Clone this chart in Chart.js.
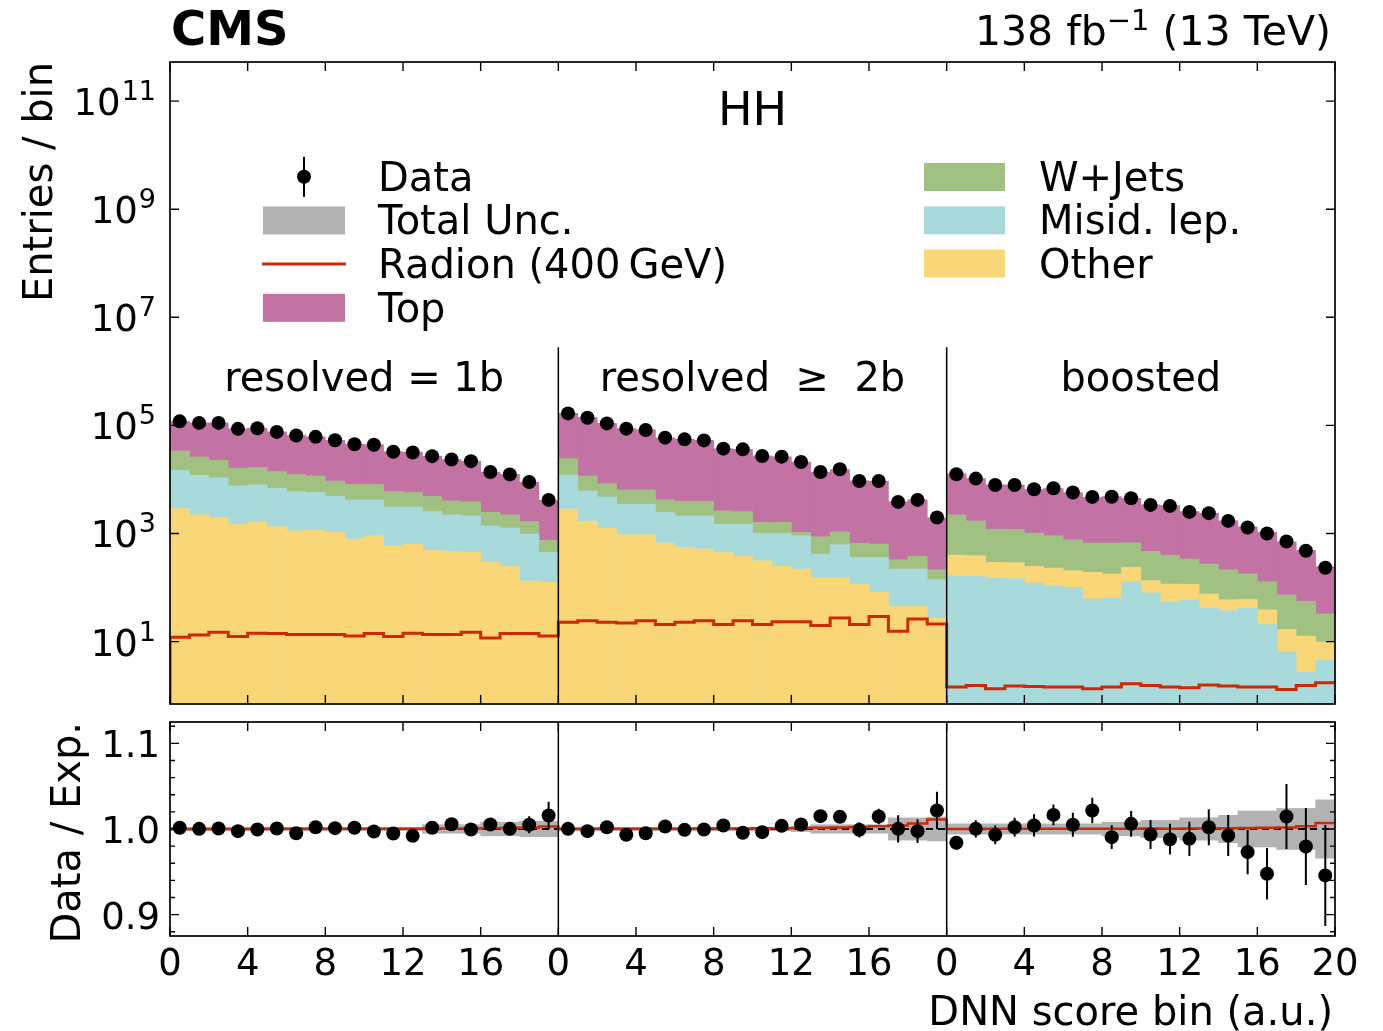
<!DOCTYPE html>
<html lang="en">
<head>
    <meta charset="UTF-8">
    <title>HH DNN score</title>
    <script src="https://cdn.jsdelivr.net/npm/chart.js"></script>
    <style>
        body { margin: 0; background: #fff; }
        #wrap { position: relative; width: 1383px; height: 1031px; }
        canvas { position: absolute; left: 0; }
        #main { top: 0; }
        #ratio { top: 712px; }
    </style>
</head>
<body>
<div id="wrap">
    <canvas id="main" width="1383" height="712"></canvas>
    <canvas id="ratio" width="1383" height="319"></canvas>
</div>

<script>
    // 3 categories x 20 DNN score bins
    const nBins = 60;
    const regionLabels = ['resolved = 1b', 'resolved  \u2265  2b', 'boosted'];
    const regionEdges = [20, 40];
    const xTickStep = 4;
    const yTickExps = [1, 3, 5, 7, 9, 11];
    const ratioMajor = [0.9, 1.0, 1.1];
    const ratioMinor = [0.88, 0.92, 0.94, 0.96, 0.98, 1.02, 1.04, 1.06, 1.08, 1.12];

    const dataObs = [
        118800, 111200, 111200, 86300, 88500, 75900, 64900, 61400, 53200, 44900, 43800, 32500, 31600, 27000, 23400, 21800, 13700, 12400, 8950, 4180,
        166700, 138700, 108900, 87100, 82000, 59300, 55200, 52800, 37150, 36060, 27160, 26420, 21040, 13740, 15420, 9380, 9380, 3840, 4180, 1980,
        12470, 10380, 7910, 7910, 6590, 6870, 5730, 4750, 4790, 4500, 3380, 3240, 2510, 2380, 1710, 1290, 1000, 713, 479, 232
    ];
    const bkgTop = [
        85100, 85200, 88600, 70500, 72000, 61900, 52900, 49700, 43900, 36900, 35900, 26700, 26100, 22100, 19300, 17900, 11150, 10190, 7240, 3360,
        142400, 127500, 100300, 81300, 76000, 54900, 51400, 48900, 34400, 33650, 25700, 24700, 19900, 12670, 14140, 8730, 8600, 3510, 3810, 1730,
        10460, 8670, 6770, 6700, 5540, 5850, 4940, 3990, 4180, 3800, 2930, 2880, 2200, 2100, 1510, 1150, 927, 630, 433, 213
    ];
    const bkgWJets = [
        18800, 14100, 11900, 8510, 8660, 7130, 6330, 5870, 4430, 3880, 3880, 2880, 2640, 2280, 1800, 1770, 1100, 950, 683, 306,
        12170, 5470, 3640, 2930, 2930, 1750, 1780, 1780, 1130, 1060, 600, 600, 139, 453, 456, 303, 276, 107, 157, 74,
        1812, 1321, 908, 902, 771, 677, 560, 473, 486, 434, 333, 282, 222, 196, 154, 118, 89, 56.1, 43.1, 22.6
    ];
    const bkgMisid = [
        11900, 9690, 8720, 6100, 6320, 5540, 4850, 4580, 3850, 3380, 3260, 2500, 2460, 2060, 1740, 1670, 1080, 1015, 845, 322,
        9280, 4470, 3510, 2530, 2530, 1780, 1570, 1610, 1040, 1110, 687, 754, 686, 264, 466, 245, 280, 176, 176, 113,
        161, 162, 148, 147, 121, 108, 101, 61.4, 64.1, 128, 79.4, 53.3, 58.9, 41.4, 37.3, 41.4, 20.6, 6.5, 2.7, 4.5
    ];
    const bkgOther = [
        2880, 2210, 1980, 1490, 1620, 1330, 1120, 1150, 1050, 787, 906, 592, 631, 490, 468, 447, 300, 245, 132, 125,
        2820, 1670, 1240, 946, 946, 664, 552, 514, 447, 377, 313, 246, 220, 152, 152, 116, 81.5, 44.4, 44.4, 27,
        237, 227, 144, 141, 124, 121, 103, 130, 114, 108, 54.6, 62.7, 56.1, 34.5, 22.3, 18.9, 18.3, 10.2, 9.9, 5.3
    ];
    const radion = [
        12.0, 13.3, 14.9, 12.4, 14.3, 14.1, 13.5, 13.5, 13.5, 12.7, 14.1, 12.4, 14.3, 13.5, 13.5, 14.9, 11.7, 14.1, 14.1, 12.7,
        22.8, 24.4, 22.8, 22.1, 24.4, 20.6, 22.8, 24.4, 20.6, 24.4, 20.6, 23.4, 23.4, 19.8, 27.4, 20.6, 29.0, 15.6, 26.2, 21.2,
        1.44, 1.54, 1.34, 1.50, 1.47, 1.45, 1.45, 1.34, 1.45, 1.65, 1.54, 1.44, 1.40, 1.58, 1.50, 1.45, 1.44, 1.30, 1.54, 1.73
    ];

    const ratioObs = [
        1.0014, 1.0002, 1.0006, 0.9975, 0.9994, 1.0006, 0.9951, 1.0021, 1.001, 1.0014, 0.9971, 0.9947, 0.992, 1.0014, 1.0056, 0.9994, 1.0053, 1.0002, 1.0049, 1.0158,
        1.0002, 0.9975, 1.0021, 0.9932, 0.9951, 1.0029, 0.999, 0.9994, 1.0041, 0.9955, 0.9963, 1.0037, 1.0053, 1.015, 1.0142, 0.999, 1.0146, 1.0002, 0.9975, 1.0216,
        0.9839, 1.0002, 0.9932, 1.0021, 1.0041, 1.0165, 1.0049, 1.0216, 0.9905, 1.006, 0.9936, 0.9881, 0.9885, 1.0021, 0.9924, 0.973, 0.9477, 1.0146, 0.9796, 0.9458
    ];
    const ratioErr = [
        0.002, 0.002, 0.002, 0.002, 0.002, 0.002, 0.002, 0.003, 0.003, 0.003, 0.003, 0.003, 0.004, 0.004, 0.005, 0.005, 0.006, 0.007, 0.010, 0.016,
        0.002, 0.002, 0.002, 0.002, 0.003, 0.003, 0.003, 0.003, 0.004, 0.004, 0.005, 0.005, 0.005, 0.007, 0.007, 0.009, 0.009, 0.016, 0.014, 0.022,
        0.008, 0.010, 0.011, 0.011, 0.013, 0.012, 0.014, 0.015, 0.014, 0.015, 0.017, 0.018, 0.020, 0.021, 0.024, 0.026, 0.030, 0.038, 0.045, 0.059
    ];
    const ratioUnc = [
        0.002, 0.002, 0.002, 0.002, 0.002, 0.002, 0.002, 0.002, 0.002, 0.002, 0.002, 0.002, 0.002, 0.005, 0.005, 0.005, 0.008, 0.008, 0.009, 0.009,
        0.002, 0.002, 0.002, 0.002, 0.002, 0.002, 0.002, 0.002, 0.002, 0.002, 0.002, 0.002, 0.003, 0.005, 0.005, 0.005, 0.005, 0.013, 0.013, 0.014,
        0.006, 0.006, 0.006, 0.006, 0.006, 0.006, 0.006, 0.006, 0.008, 0.008, 0.010, 0.010, 0.013, 0.013, 0.016, 0.021, 0.021, 0.024, 0.024, 0.034
    ];
    const ratioSignal = [
        1.0001, 1.0001, 1.0001, 1.0001, 1.0001, 1.0002, 1.0002, 1.0002, 1.0003, 1.0003, 1.0003, 1.0004, 1.0004, 1.0005, 1.0006, 1.0007, 1.0009, 1.0011, 1.0016, 1.003,
        1.0001, 1.0002, 1.0002, 1.0003, 1.0003, 1.0004, 1.0004, 1.0005, 1.0006, 1.0007, 1.0009, 1.0009, 1.0011, 1.0015, 1.0018, 1.0022, 1.0031, 1.0041, 1.0063, 1.011,
        1.0001, 1.0001, 1.0002, 1.0002, 1.0002, 1.0002, 1.0003, 1.0003, 1.0003, 1.0004, 1.0005, 1.0004, 1.0006, 1.0007, 1.0009, 1.0011, 1.0014, 1.0018, 1.0031, 1.0071
    ];

    const yMin = 0.74, yMax = 5.3e11;
    const ratioMin = 0.875, ratioMax = 1.125;
    const separatorTop = 2.8e6;

    const colors = {
        top: '#c273a4',
        wjets: '#a1c182',
        misid: '#a9dadb',
        other: '#f9d678',
        radion: '#cc2a04',
        unc: '#b3b3b3'
    };

    const FONT = '"DejaVu Sans", sans-serif';
    Chart.defaults.font.family = FONT;

    function binPoints(values) {
        return values.map((v, i) => ({x: i + 0.5, y: v}));
    }

    // only keep bins in [from, to), so the boosted stack can use another order
    function binPart(values, from, to) {
        return values.map((v, i) => ({x: i + 0.5, y: (i >= from && i < to) ? v : null}));
    }

    // step histogram: points at right bin edges, drawn with stepped 'after'
    function stepPoints(values, first) {
        const pts = [{x: 0, y: first}];
        values.forEach((v, i) => pts.push({x: i + 1, y: v}));
        return pts;
    }

    function stackBar(label, points, color) {
        return {
            type: 'bar', label: label, data: points, backgroundColor: color, stack: 'bkg',
            borderWidth: 0, barPercentage: 1, categoryPercentage: 1, order: 3
        };
    }

    function drawFrame(chart, yMajor, yMinor) {
        const ctx = chart.ctx, a = chart.chartArea;
        const xs = chart.scales.x, ys = chart.scales.y;
        ctx.save();
        ctx.strokeStyle = '#000';
        ctx.lineWidth = 1.4;
        ctx.beginPath();
        for (let v = 0; v <= nBins; v += xTickStep) {
            const px = xs.getPixelForValue(v);
            ctx.moveTo(px, a.bottom); ctx.lineTo(px, a.bottom - 9);
            ctx.moveTo(px, a.top); ctx.lineTo(px, a.top + 9);
        }
        yMajor.forEach(v => {
            const py = ys.getPixelForValue(v);
            ctx.moveTo(a.left, py); ctx.lineTo(a.left + 9, py);
            ctx.moveTo(a.right, py); ctx.lineTo(a.right - 9, py);
        });
        yMinor.forEach(v => {
            const py = ys.getPixelForValue(v);
            ctx.moveTo(a.left, py); ctx.lineTo(a.left + 5, py);
            ctx.moveTo(a.right, py); ctx.lineTo(a.right - 5, py);
        });
        ctx.stroke();
        ctx.lineWidth = 1.7;
        ctx.strokeRect(a.left, a.top, a.right - a.left, a.bottom - a.top);
        ctx.restore();
    }

    function drawVerticalTitle(ctx, text, x, yTop) {
        ctx.save();
        ctx.translate(x, yTop);
        ctx.rotate(-Math.PI / 2);
        ctx.font = '40px ' + FONT;
        ctx.textAlign = 'right';
        ctx.textBaseline = 'alphabetic';
        ctx.fillStyle = '#000';
        ctx.fillText(text, 0, 0);
        ctx.restore();
    }

    const mainDecor = {
        id: 'mainDecor',
        afterDraw(chart) {
            const ctx = chart.ctx, a = chart.chartArea;
            const xs = chart.scales.x, ys = chart.scales.y;

            // category separators
            ctx.save();
            ctx.strokeStyle = '#000';
            ctx.lineWidth = 1.5;
            regionEdges.forEach(b => {
                const px = xs.getPixelForValue(b);
                ctx.beginPath();
                ctx.moveTo(px, ys.getPixelForValue(separatorTop));
                ctx.lineTo(px, a.bottom);
                ctx.stroke();
            });
            ctx.restore();

            drawFrame(chart, yTickExps.map(e => Math.pow(10, e)), []);

            ctx.save();
            ctx.fillStyle = '#000';
            ctx.textBaseline = 'alphabetic';

            // 10^n labels
            yTickExps.forEach(e => {
                const py = ys.getPixelForValue(Math.pow(10, e));
                ctx.font = '27px ' + FONT;
                const we = ctx.measureText(String(e)).width;
                ctx.textAlign = 'right';
                ctx.fillText(String(e), 156, py - 1);
                ctx.font = '37px ' + FONT;
                ctx.fillText('10', 156 - we - 1, py + 14);
            });

            // region labels
            ctx.font = '40px ' + FONT;
            ctx.textAlign = 'center';
            regionLabels.forEach((t, i) => {
                ctx.fillText(t, xs.getPixelForValue(i * 20 + 10), 391);
            });

            ctx.font = '46px ' + FONT;
            ctx.fillText('HH', (a.left + a.right) / 2, 125);

            // CMS and lumi
            ctx.textAlign = 'left';
            ctx.font = 'bold 48px ' + FONT;
            ctx.fillText('CMS', 171, 45);

            const p1 = '138 fb', p2 = '\u22121', p3 = ' (13 TeV)';
            ctx.font = '41px ' + FONT;
            const w1 = ctx.measureText(p1).width, w3 = ctx.measureText(p3).width;
            ctx.font = '29px ' + FONT;
            const w2 = ctx.measureText(p2).width;
            let x0 = 1331 - (w1 + w2 + w3);
            ctx.font = '41px ' + FONT;
            ctx.fillText(p1, x0, 45);
            ctx.font = '29px ' + FONT;
            ctx.fillText(p2, x0 + w1, 30);
            ctx.font = '41px ' + FONT;
            ctx.fillText(p3, x0 + w1 + w2, 45);

            // legend
            const rowsL = [176.7, 220.4, 264.1, 307.8];
            const rowsR = [177, 220.4, 263.5];
            ctx.font = '40px ' + FONT;

            ctx.strokeStyle = '#000';
            ctx.lineWidth = 2;
            ctx.beginPath();
            ctx.moveTo(304, rowsL[0] - 20); ctx.lineTo(304, rowsL[0] + 20);
            ctx.stroke();
            ctx.beginPath();
            ctx.arc(304, rowsL[0], 7, 0, Math.PI * 2);
            ctx.fill();

            ctx.fillStyle = colors.unc;
            ctx.fillRect(263, rowsL[1] - 14, 82, 28);
            ctx.strokeStyle = colors.radion;
            ctx.lineWidth = 3;
            ctx.beginPath();
            ctx.moveTo(262, rowsL[2]); ctx.lineTo(346, rowsL[2]);
            ctx.stroke();
            ctx.fillStyle = colors.top;
            ctx.fillRect(263, rowsL[3] - 14, 82, 28);

            ctx.fillStyle = colors.wjets;
            ctx.fillRect(924, rowsR[0] - 14, 81, 28);
            ctx.fillStyle = colors.misid;
            ctx.fillRect(924, rowsR[1] - 14, 81, 28);
            ctx.fillStyle = colors.other;
            ctx.fillRect(924, rowsR[2] - 14, 81, 28);

            ctx.fillStyle = '#000';
            const namesL = ['Data', 'Total Unc.', 'Radion (400\u2009GeV)', 'Top'];
            const namesR = ['W+Jets', 'Misid. lep.', 'Other'];
            namesL.forEach((t, i) => ctx.fillText(t, 378, rowsL[i] + 14));
            namesR.forEach((t, i) => ctx.fillText(t, 1039, rowsR[i] + 14));
            ctx.restore();

            drawVerticalTitle(ctx, 'Entries / bin', 52, a.top);
        }
    };

    const ratioDecor = {
        id: 'ratioDecor',
        afterDatasetsDraw(chart) {
            const ctx = chart.ctx;
            const xs = chart.scales.x, ys = chart.scales.y;
            ctx.save();
            ctx.strokeStyle = '#000';
            ctx.lineWidth = 2;
            ctx.beginPath();
            ratioObs.forEach((r, i) => {
                const px = xs.getPixelForValue(i + 0.5);
                ctx.moveTo(px, ys.getPixelForValue(r - ratioErr[i]));
                ctx.lineTo(px, ys.getPixelForValue(r + ratioErr[i]));
            });
            ctx.stroke();
            ctx.restore();
        },
        afterDraw(chart) {
            const ctx = chart.ctx, a = chart.chartArea;
            const xs = chart.scales.x, ys = chart.scales.y;

            ctx.save();
            ctx.strokeStyle = '#000';
            ctx.lineWidth = 1.5;
            regionEdges.forEach(b => {
                const px = xs.getPixelForValue(b);
                ctx.beginPath();
                ctx.moveTo(px, a.top);
                ctx.lineTo(px, a.bottom);
                ctx.stroke();
            });
            ctx.restore();

            drawFrame(chart, ratioMajor, ratioMinor);

            ctx.save();
            ctx.fillStyle = '#000';
            ctx.font = '37px ' + FONT;
            ctx.textBaseline = 'alphabetic';
            ctx.textAlign = 'right';
            ratioMajor.forEach(v => {
                ctx.fillText(v.toFixed(1), 160, ys.getPixelForValue(v) + 14);
            });
            ctx.textAlign = 'center';
            for (let v = 0; v <= nBins; v += xTickStep) {
                const lab = (v === nBins) ? '20' : String(v % 20);
                ctx.fillText(lab, xs.getPixelForValue(v), 263);
            }
            ctx.font = '40px ' + FONT;
            ctx.textAlign = 'right';
            ctx.fillText('DNN score bin (a.u.)', 1333, 313);
            ctx.restore();

            drawVerticalTitle(ctx, 'Data / Exp.', 80, a.top);
        }
    };

    const xScale = {type: 'linear', min: 0, max: nBins, offset: false, display: false};

    new Chart(document.getElementById('main').getContext('2d'), {
        type: 'bar',
        data: {
            datasets: [
                stackBar('Misid. lep. (boosted)', binPart(bkgMisid, 40, 60), colors.misid),
                stackBar('Other', binPoints(bkgOther), colors.other),
                stackBar('Misid. lep.', binPart(bkgMisid, 0, 40), colors.misid),
                stackBar('W+Jets', binPoints(bkgWJets), colors.wjets),
                stackBar('Top', binPoints(bkgTop), colors.top),
                {
                    type: 'line', label: 'Radion (400 GeV)', data: stepPoints(radion, yMin / 2),
                    stepped: 'after', borderColor: colors.radion, borderWidth: 3,
                    pointRadius: 0, fill: false, order: 2, stack: 'radion'
                },
                {
                    type: 'scatter', label: 'Data', data: binPoints(dataObs),
                    pointRadius: 7, pointBackgroundColor: '#000', pointBorderWidth: 0,
                    order: 1, stack: 'data'
                }
            ]
        },
        options: {
            responsive: false,
            animation: false,
            layout: {padding: {left: 170, right: 48, top: 62, bottom: 8}},
            scales: {
                x: xScale,
                y: {type: 'logarithmic', min: yMin, max: yMax, stacked: true, display: false}
            },
            plugins: {legend: {display: false}, tooltip: {enabled: false}}
        },
        plugins: [mainDecor]
    });

    new Chart(document.getElementById('ratio').getContext('2d'), {
        type: 'bar',
        data: {
            datasets: [
                {
                    type: 'bar', label: 'Total Unc.',
                    data: ratioUnc.map((u, i) => ({x: i + 0.5, y: [1 - u, 1 + u]})),
                    backgroundColor: colors.unc, borderWidth: 0,
                    barPercentage: 1, categoryPercentage: 1, order: 5
                },
                {
                    type: 'line', label: 'nominal', data: [{x: 0, y: 1}, {x: nBins, y: 1}],
                    borderColor: '#000', borderWidth: 2, borderDash: [7, 5],
                    pointRadius: 0, fill: false, order: 4
                },
                {
                    type: 'line', label: 'Radion', data: stepPoints(ratioSignal, ratioSignal[0]),
                    stepped: 'after', borderColor: colors.radion, borderWidth: 2.5,
                    pointRadius: 0, fill: false, order: 3
                },
                {
                    type: 'scatter', label: 'Data', data: binPoints(ratioObs),
                    pointRadius: 7, pointBackgroundColor: '#000', pointBorderWidth: 0, order: 1
                }
            ]
        },
        options: {
            responsive: false,
            animation: false,
            layout: {padding: {left: 170, right: 48, top: 10, bottom: 95}},
            scales: {
                x: xScale,
                y: {type: 'linear', min: ratioMin, max: ratioMax, display: false}
            },
            plugins: {legend: {display: false}, tooltip: {enabled: false}}
        },
        plugins: [ratioDecor]
    });
</script>
</body>
</html>
